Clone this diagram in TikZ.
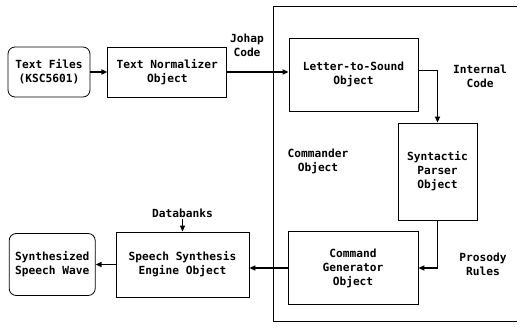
\documentclass[tikz,border=0pt]{standalone}
\usepackage{fontspec}
\newfontfamily\diagfont{DejaVu Sans Mono}
\usetikzlibrary{arrows.meta,positioning}

\begin{document}
\begin{tikzpicture}[x=1pt, y=-1pt, node distance=17pt,
  font=\diagfont\bfseries\fontsize{11.2}{14}\selectfont,
  obj/.style={draw, line width=0.8pt, align=center, inner sep=2pt},
  rnd/.style={obj, rounded corners=7pt},
  lbl/.style={align=center, inner sep=1pt},
  ar/.style={line width=1.5pt, -{Triangle[length=6pt,width=5pt]}}]
\useasboundingbox (0,0) rectangle (521,331);
% input side
\node[rnd, minimum width=82pt, minimum height=50pt] (tf) at (49,72) {Text Files\\(KSC5601)};
\node[obj, minimum width=119pt, minimum height=50pt, right=of tf] (tn) {Text Normalizer\\Object};
% commander object
\node[obj, minimum width=129pt, minimum height=73pt] (lts) at (353.5,74.5) {Letter-to-Sound\\Object};
\node[obj, minimum width=79pt, minimum height=97pt] (sp) at (437.5,171.5) {Syntactic\\Parser\\Object};
\node[obj, minimum width=130pt, minimum height=73pt] (cg) at (353,268) {Command\\Generator\\Object};
\coordinate (c1) at (517,6);
\coordinate (c2) at (273,6);
\coordinate (c3) at (273,321);
\coordinate (c4) at (517,321);
\draw[line width=0.8pt] (c1) -- (c2) -- (c3) -- (c4);
\node[lbl] (cmd) at (318,161) {Commander\\Object};
% output side
\node[obj, minimum width=133pt, minimum height=65pt] (sse) at (182.5,264.5) {Speech Synthesis\\Engine Object};
\node[rnd, minimum width=86pt, minimum height=62pt, left=20pt of sse] (ssw) {Synthesized\\Speech Wave};
\node[lbl, above=13pt of sse] (db) {Databanks};
% labels
\node[lbl] (jc) at (247,45) {Johap\\Code};
\node[lbl] (ic) at (480,76) {Internal\\Code};
\node[lbl] (pr) at (483,264) {Prosody\\Rules};
% connectors
\draw[ar] (tf) -- (tn);
\draw[ar] (tn) -- (tn -| lts.west);
\draw[ar] ([yshift=4pt]lts.east) -| (sp.north);
\draw[ar] (sp.south) |- (cg.east);
\draw[ar] (cg.west) -- (cg.west -| sse.east);
\draw[ar] (sse) -- (ssw);
\draw[ar] (db) -- (sse);
\end{tikzpicture}
\end{document}
